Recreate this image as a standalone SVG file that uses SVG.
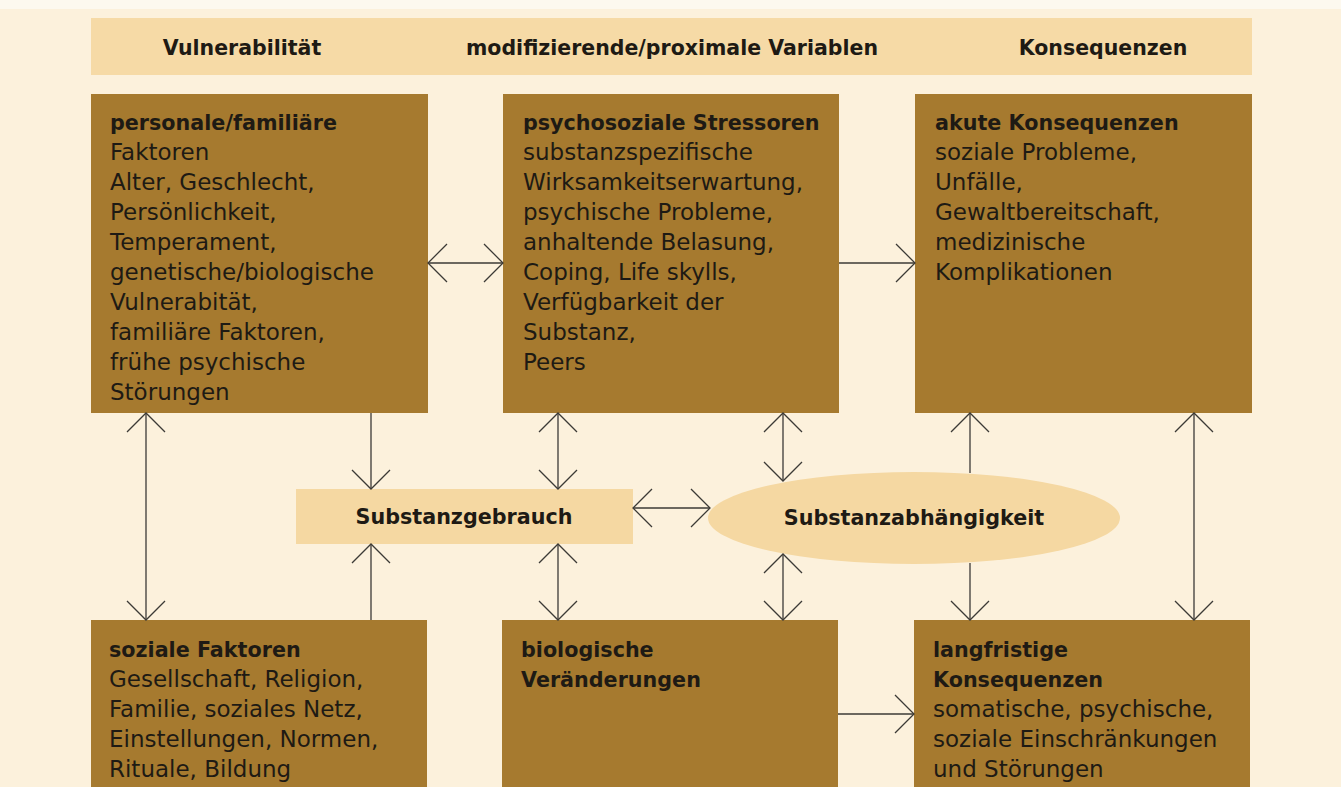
<svg xmlns="http://www.w3.org/2000/svg" width="1341" height="787" viewBox="0 0 1341 787">
<style>
.box{fill:#a67a2f}
.hdr{fill:#f6daa6}
.light{fill:#f5d8a2}
text{font-family:"DejaVu Sans","Liberation Sans",sans-serif;fill:#1e1a14}
.h{font-size:20.5px;font-weight:bold}
.t{font-size:20.7px;font-weight:bold}
.b{font-size:23px}
.c{fill:none;stroke:#3c3a36;stroke-width:1.3}
</style>
<defs>
<marker id="ah" viewBox="-22 -22 44 44" markerWidth="44" markerHeight="44" refX="0" refY="0" markerUnits="userSpaceOnUse" orient="auto-start-reverse" overflow="visible">
<path d="M-19,-19 L0,0 L-19,19" fill="none" stroke="#3c3a36" stroke-width="1.3"/>
</marker>
</defs>
<rect x="0" y="0" width="1341" height="787" fill="#fcf1dc"/>
<rect x="0" y="0" width="1341" height="9" fill="#fdf9ef"/>
<g id="header">
<rect class="hdr" x="91" y="18" width="1161" height="57"/>
<text class="h" x="242" y="55" text-anchor="middle">Vulnerabilität</text>
<text class="h" x="672" y="55" text-anchor="middle">modifizierende/proximale Variablen</text>
<text class="h" x="1103" y="55" text-anchor="middle">Konsequenzen</text>
</g>
<g id="personal">
<rect class="box" x="91" y="94" width="337" height="319"/>
<text class="t" x="110" y="130">personale/familiäre</text>
<text class="b" x="110" y="160">Faktoren</text>
<text class="b" x="110" y="190">Alter, Geschlecht,</text>
<text class="b" x="110" y="220">Persönlichkeit,</text>
<text class="b" x="110" y="250">Temperament,</text>
<text class="b" x="110" y="280">genetische/biologische</text>
<text class="b" x="110" y="310">Vulnerabität,</text>
<text class="b" x="110" y="340">familiäre Faktoren,</text>
<text class="b" x="110" y="370">frühe psychische</text>
<text class="b" x="110" y="400">Störungen</text>
</g>
<g id="stressoren">
<rect class="box" x="503" y="94" width="336" height="319"/>
<text class="t" x="523" y="130">psychosoziale Stressoren</text>
<text class="b" x="523" y="160">substanzspezifische</text>
<text class="b" x="523" y="190">Wirksamkeitserwartung,</text>
<text class="b" x="523" y="220">psychische Probleme,</text>
<text class="b" x="523" y="250">anhaltende Belasung,</text>
<text class="b" x="523" y="280">Coping, Life skylls,</text>
<text class="b" x="523" y="310">Verfügbarkeit der</text>
<text class="b" x="523" y="340">Substanz,</text>
<text class="b" x="523" y="370">Peers</text>
</g>
<g id="akut">
<rect class="box" x="915" y="94" width="337" height="319"/>
<text class="t" x="935" y="130">akute Konsequenzen</text>
<text class="b" x="935" y="160">soziale Probleme,</text>
<text class="b" x="935" y="190">Unfälle,</text>
<text class="b" x="935" y="220">Gewaltbereitschaft,</text>
<text class="b" x="935" y="250">medizinische</text>
<text class="b" x="935" y="280">Komplikationen</text>
</g>
<g id="gebrauch">
<rect class="light" x="296" y="489" width="337" height="55"/>
<text class="t" x="464" y="524" text-anchor="middle">Substanzgebrauch</text>
</g>
<g id="abhaengigkeit">
<ellipse class="light" cx="914" cy="518" rx="206" ry="46"/>
<text class="t" x="914" y="525" text-anchor="middle">Substanzabhängigkeit</text>
</g>
<g id="sozial">
<rect class="box" x="91" y="620" width="336" height="167"/>
<text class="t" x="109" y="657">soziale Faktoren</text>
<text class="b" x="109" y="687">Gesellschaft, Religion,</text>
<text class="b" x="109" y="717">Familie, soziales Netz,</text>
<text class="b" x="109" y="747">Einstellungen, Normen,</text>
<text class="b" x="109" y="777">Rituale, Bildung</text>
</g>
<g id="biologisch">
<rect class="box" x="502" y="620" width="336" height="167"/>
<text class="t" x="521" y="657">biologische</text>
<text class="t" x="521" y="687">Veränderungen</text>
</g>
<g id="langfristig">
<rect class="box" x="914" y="620" width="336" height="167"/>
<text class="t" x="933" y="657">langfristige</text>
<text class="t" x="933" y="687">Konsequenzen</text>
<text class="b" x="933" y="717">somatische, psychische,</text>
<text class="b" x="933" y="747">soziale Einschränkungen</text>
<text class="b" x="933" y="777">und Störungen</text>
</g>
<g id="connectors">
<line class="c" x1="428" y1="263" x2="503" y2="263" marker-start="url(#ah)" marker-end="url(#ah)"/>
<line class="c" x1="839" y1="263" x2="915" y2="263" marker-end="url(#ah)"/>
<line class="c" x1="371" y1="413" x2="371" y2="489" marker-end="url(#ah)"/>
<line class="c" x1="146" y1="413" x2="146" y2="620" marker-start="url(#ah)" marker-end="url(#ah)"/>
<line class="c" x1="371" y1="620" x2="371" y2="544" marker-end="url(#ah)"/>
<line class="c" x1="558" y1="413" x2="558" y2="489" marker-start="url(#ah)" marker-end="url(#ah)"/>
<line class="c" x1="783" y1="413" x2="783" y2="481" marker-start="url(#ah)" marker-end="url(#ah)"/>
<line class="c" x1="633" y1="508" x2="710" y2="508" marker-start="url(#ah)" marker-end="url(#ah)"/>
<line class="c" x1="558" y1="544" x2="558" y2="620" marker-start="url(#ah)" marker-end="url(#ah)"/>
<line class="c" x1="783" y1="554" x2="783" y2="620" marker-start="url(#ah)" marker-end="url(#ah)"/>
<line class="c" x1="838" y1="714" x2="914" y2="714" marker-end="url(#ah)"/>
<line class="c" x1="970" y1="473" x2="970" y2="413" marker-end="url(#ah)"/>
<line class="c" x1="970" y1="563" x2="970" y2="620" marker-end="url(#ah)"/>
<line class="c" x1="1194" y1="413" x2="1194" y2="620" marker-start="url(#ah)" marker-end="url(#ah)"/>
</g>
</svg>
